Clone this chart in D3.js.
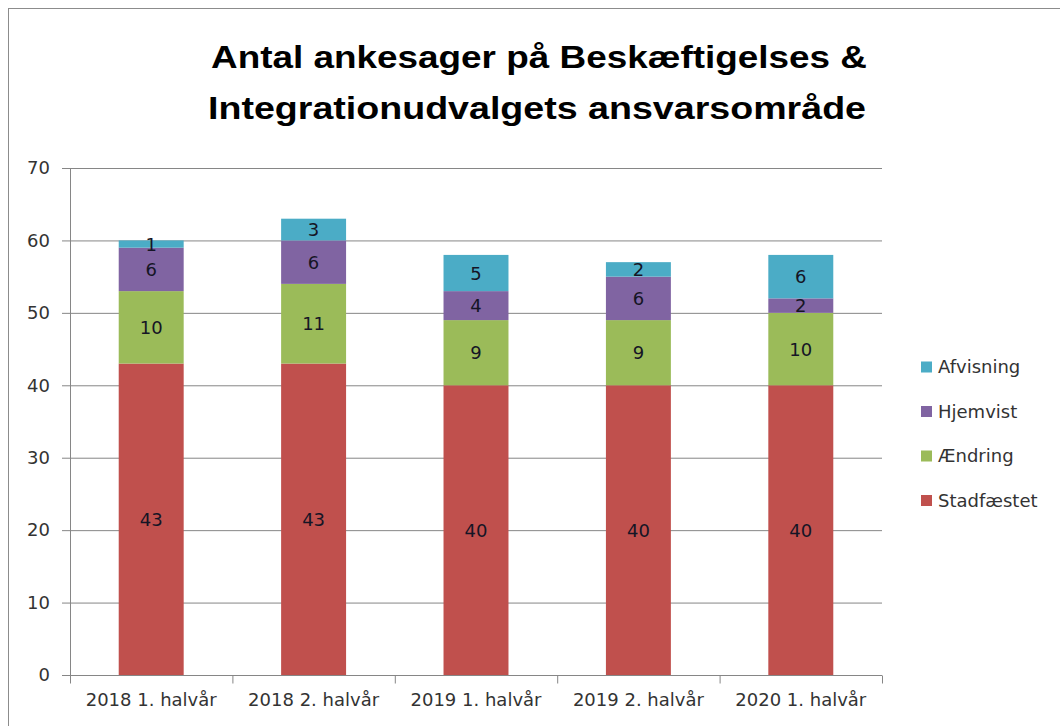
<!DOCTYPE html>
<html><head><meta charset="utf-8">
<script src="https://cdn.jsdelivr.net/npm/d3@7"></script>
<style>body{margin:0;background:#fff}svg{display:block}</style>
</head><body>
<svg id="c" width="1060" height="726"></svg>
<script>
const categories = ["2018 1. halvår","2018 2. halvår","2019 1. halvår","2019 2. halvår","2020 1. halvår"];
const seriesNames = ["Stadfæstet","Ændring","Hjemvist","Afvisning"];
const stadfaestet = [43,43,40,40,40];
const aendring = [10,11,9,9,10];
const hjemvist = [6,6,4,6,2];
const afvisning = [1,3,5,2,6];
const yTicks = [0,10,20,30,40,50,60,70];
const colors = ["#C0504D","#9BBB59","#8064A2","#4BACC6"];
const titleLines = ["Antal ankesager på Beskæftigelses &","Integrationudvalgets ansvarsområde"];

(function(){
const rows = categories.map((c,i)=>({cat:c,"Stadfæstet":stadfaestet[i],"Ændring":aendring[i],"Hjemvist":hjemvist[i],"Afvisning":afvisning[i]}));
const stack = d3.stack().keys(seriesNames)(rows);

const svg = d3.select("#c");
svg.append("rect").attr("x",8.5).attr("y",8.5).attr("width",1200).attr("height",900)
  .attr("fill","#fff").attr("stroke","#8c8c8c").attr("stroke-width",1);

const pL=70, pR=882, pT=168, pB=675;
const x = d3.scaleBand().domain(categories).range([pL,pR]).paddingInner(0.6).paddingOuter(0.3);
const y = d3.scaleLinear().domain([0,70]).range([pB,pT]);

// title
const tf = "'Liberation Sans',Arial,sans-serif";
svg.append("text").attr("x",539).attr("y",68).attr("text-anchor","middle")
  .attr("font-family",tf).attr("font-weight","bold").attr("font-size",31)
  .attr("textLength",656).attr("lengthAdjust","spacingAndGlyphs").attr("fill","#000").text(titleLines[0]);
svg.append("text").attr("x",537).attr("y",119).attr("text-anchor","middle")
  .attr("font-family",tf).attr("font-weight","bold").attr("font-size",31)
  .attr("textLength",658).attr("lengthAdjust","spacingAndGlyphs").attr("fill","#000").text(titleLines[1]);

const font = "'DejaVu Sans',Verdana,sans-serif";
const fs = 18;

// gridlines
const yAxis = d3.axisLeft(y).tickValues(yTicks).tickSize(-(pR-pL)).tickPadding(10).tickSizeOuter(0);
const gy = svg.append("g").attr("transform",`translate(${pL},0)`).call(yAxis);
gy.select(".domain").remove();
gy.selectAll(".tick line").attr("stroke","#868686").attr("x1",-8);
gy.selectAll(".tick text").attr("font-family",font).attr("font-size",fs).attr("fill","#333").attr("x",-20);

// y axis line
svg.append("line").attr("x1",pL+0.5).attr("x2",pL+0.5).attr("y1",pT).attr("y2",pB).attr("stroke","#868686");

// bars
stack.forEach((s,si)=>{
  const g = svg.append("g");
  g.selectAll("rect").data(s).join("rect")
    .attr("x",d=>x(d.data.cat)).attr("width",x.bandwidth())
    .attr("y",d=>y(d[1])).attr("height",d=>y(d[0])-y(d[1]))
    .attr("fill",colors[si]);
  g.selectAll("text").data(s).join("text")
    .attr("x",d=>x(d.data.cat)+x.bandwidth()/2)
    .attr("y",d=>(y(d[0])+y(d[1]))/2)
    .attr("dy","0.36em").attr("text-anchor","middle")
    .attr("font-family",font).attr("font-size",fs).attr("fill","#151525")
    .text(d=>d[1]-d[0]);
});

// x axis
const xb = d3.scaleLinear().domain([0,5]).range([pL,pR]);
const gx = svg.append("g").attr("transform",`translate(0,${pB+0.5})`);
gx.append("line").attr("x1",pL).attr("x2",pR).attr("stroke","#868686");
gx.selectAll("line.t").data(d3.range(0,6)).join("line").attr("class","t")
  .attr("x1",d=>xb(d)+0.5).attr("x2",d=>xb(d)+0.5).attr("y1",0).attr("y2",8).attr("stroke","#868686");
gx.selectAll("text").data(categories).join("text")
  .attr("x",d=>x(d)+x.bandwidth()/2).attr("y",30).attr("text-anchor","middle")
  .attr("font-family",font).attr("font-size",fs).attr("fill","#333").text(d=>d);

// legend
const legOrder = seriesNames.map((n,i)=>({n,c:colors[i]})).reverse();
const lg = svg.append("g");
legOrder.forEach((d,i)=>{
  const cy = 367 + i*44.5;
  lg.append("rect").attr("x",921).attr("y",cy-5.5).attr("width",11).attr("height",11).attr("fill",d.c);
  lg.append("text").attr("x",938).attr("y",cy).attr("dy","0.36em").attr("font-family",font)
    .attr("font-size",fs).attr("fill","#333").text(d.n);
});
})();
</script>
</body></html>
